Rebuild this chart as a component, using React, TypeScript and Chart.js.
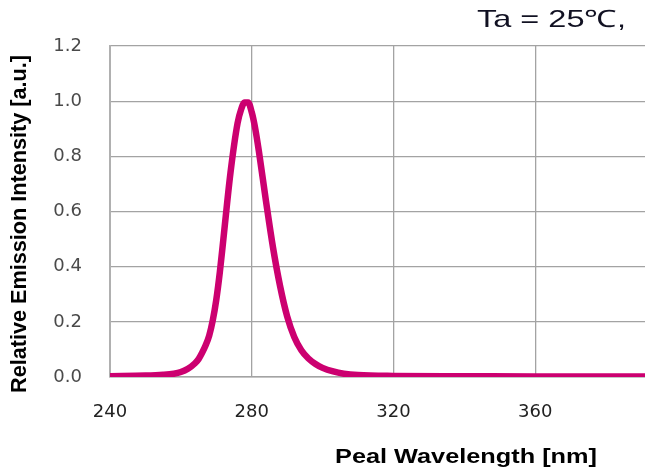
import React, { useEffect, useRef } from "react";
import { Chart, registerables } from "chart.js";

Chart.register(...registerables);

// ---- data ----
const WAVELENGTH_NM = [
  240, 250, 255, 258, 260, 262, 264, 265, 266, 267, 268, 269, 270, 271, 272, 274,
  276, 277, 278, 279, 280, 281, 282, 284, 286, 288, 290, 292, 294, 296, 298, 300,
  303, 306, 310, 320, 340, 360, 380, 391,
];
const RELATIVE_INTENSITY = [
  0.003, 0.005, 0.008, 0.012, 0.018, 0.03, 0.05, 0.065, 0.088, 0.115, 0.15, 0.205,
  0.28, 0.38, 0.5, 0.74, 0.92, 0.97, 0.995, 0.995, 0.96, 0.9, 0.82, 0.64, 0.47,
  0.33, 0.22, 0.145, 0.097, 0.067, 0.047, 0.033, 0.02, 0.012, 0.007, 0.004, 0.003,
  0.002, 0.002, 0.002,
];
const X_TICKS = [240, 280, 320, 360];
const Y_TICKS = [0, 0.2, 0.4, 0.6, 0.8, 1.0, 1.2];

const TOP_LABEL = "Ta = 25\u2103,";
const X_TITLE = "Peal Wavelength [nm]";
const Y_TITLE = "Relative Emission Intensity [a.u.]";

const LINE_COLOR = "#cc0070";
const GRID_COLOR = "#a3a3a3";

function fitText(
  ctx: CanvasRenderingContext2D,
  text: string,
  font: string,
  x: number,
  y: number,
  targetWidth: number,
  rotate: number,
  color: string
) {
  ctx.save();
  ctx.font = font;
  const w = ctx.measureText(text).width;
  ctx.translate(x, y);
  if (rotate) ctx.rotate(rotate);
  ctx.scale(targetWidth / w, 1);
  ctx.textAlign = "left";
  ctx.textBaseline = "alphabetic";
  ctx.fillStyle = color;
  ctx.fillText(text, 0, 0);
  ctx.restore();
}

const textPlugin = {
  id: "extraTexts",
  afterDraw(chart: any) {
    const ctx: CanvasRenderingContext2D = chart.ctx;
    fitText(ctx, TOP_LABEL, '24px "Liberation Sans", Arial, sans-serif', 477, 27, 149, 0, "#111122");
    fitText(ctx, X_TITLE, 'bold 21px "Liberation Sans", Arial, sans-serif', 335, 463, 262, 0, "#000");
    fitText(ctx, Y_TITLE, 'bold 22px "Liberation Sans", Arial, sans-serif', 26, 393, 338, -Math.PI / 2, "#000");
  },
};

export default function App() {
  const ref = useRef<HTMLCanvasElement | null>(null);

  useEffect(() => {
    if (!ref.current) return;
    const chart = new Chart(ref.current, {
      type: "line",
      data: {
        datasets: [
          {
            data: WAVELENGTH_NM.map((x, i) => ({ x, y: RELATIVE_INTENSITY[i] })),
            borderColor: LINE_COLOR,
            backgroundColor: LINE_COLOR,
            borderWidth: 6.5,
            pointRadius: 0,
            fill: false,
            cubicInterpolationMode: "monotone",
            borderCapStyle: "round",
            borderJoinStyle: "round",
          },
        ],
      },
      options: {
        responsive: false,
        animation: false,
        layout: { padding: { top: 46, right: 0, bottom: 0, left: 0 } },
        plugins: {
          legend: { display: false },
          tooltip: { enabled: false },
          title: { display: false },
        },
        scales: {
          x: {
            type: "linear",
            min: 240,
            max: 391,
            afterBuildTicks: (s: any) => {
              s.ticks = X_TICKS.map((v) => ({ value: v }));
            },
            afterFit: (s: any) => {
              s.height = 94;
            },
            ticks: {
              font: { family: '"DejaVu Sans", Verdana, sans-serif', size: 18 },
              color: "#222",
              padding: 25,
              maxRotation: 0,
              callback: (v: any) => String(v),
            },
            grid: { color: GRID_COLOR, lineWidth: 1.3, drawTicks: false },
            border: { display: true, color: GRID_COLOR, width: 1.5 },
          },
          y: {
            type: "linear",
            min: 0,
            max: 1.2,
            afterBuildTicks: (s: any) => {
              s.ticks = Y_TICKS.map((v) => ({ value: v }));
            },
            afterFit: (s: any) => {
              s.width = 110;
            },
            ticks: {
              font: { family: '"DejaVu Sans", Verdana, sans-serif', size: 18 },
              color: "#4a4a4a",
              padding: 28,
              callback: (v: any) => Number(v).toFixed(1),
            },
            grid: { color: GRID_COLOR, lineWidth: 1.3, drawTicks: false },
            border: { display: true, color: "#b0b0b0", width: 2 },
          },
        },
      },
      plugins: [textPlugin],
    } as any);
    return () => chart.destroy();
  }, []);

  return (
    <div style={{ position: "absolute", left: 0, top: 0, width: 645, height: 471, background: "#fff" }}>
      <canvas ref={ref} width={645} height={471} style={{ width: 645, height: 471, display: "block" }} />
    </div>
  );
}
